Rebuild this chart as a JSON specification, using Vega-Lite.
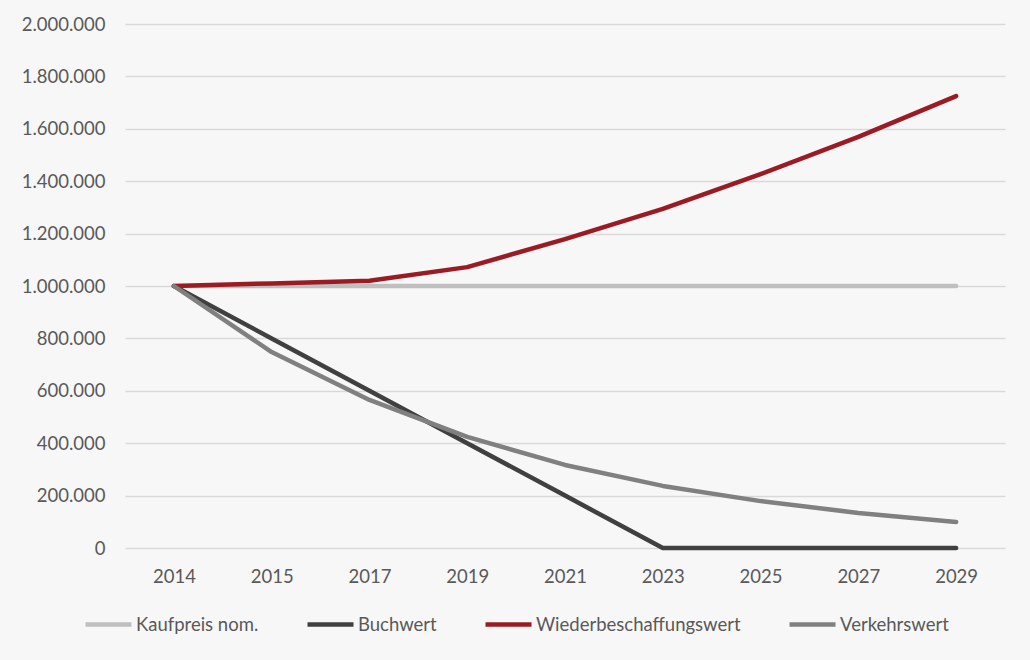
{
  "$schema": "https://vega.github.io/schema/vega-lite/v6.json",
  "width": 880,
  "height": 524,
  "autosize": {"type": "none"},
  "padding": {"left": 125, "top": 24, "right": 25, "bottom": 112},
  "background": "#f7f7f7",
  "config": {
    "locale": {"number": {"decimal": ",", "thousands": ".", "grouping": [3], "currency": ["", " €"]}},
    "font": "Lato",
    "view": {"stroke": null}
  },
  "data": {
    "values": [
      {"Jahr": "2014", "Serie": "Kaufpreis nom.", "Wert": 1000000},
      {"Jahr": "2015", "Serie": "Kaufpreis nom.", "Wert": 1000000},
      {"Jahr": "2017", "Serie": "Kaufpreis nom.", "Wert": 1000000},
      {"Jahr": "2019", "Serie": "Kaufpreis nom.", "Wert": 1000000},
      {"Jahr": "2021", "Serie": "Kaufpreis nom.", "Wert": 1000000},
      {"Jahr": "2023", "Serie": "Kaufpreis nom.", "Wert": 1000000},
      {"Jahr": "2025", "Serie": "Kaufpreis nom.", "Wert": 1000000},
      {"Jahr": "2027", "Serie": "Kaufpreis nom.", "Wert": 1000000},
      {"Jahr": "2029", "Serie": "Kaufpreis nom.", "Wert": 1000000},
      {"Jahr": "2014", "Serie": "Buchwert", "Wert": 1000000},
      {"Jahr": "2015", "Serie": "Buchwert", "Wert": 800000},
      {"Jahr": "2017", "Serie": "Buchwert", "Wert": 600000},
      {"Jahr": "2019", "Serie": "Buchwert", "Wert": 400000},
      {"Jahr": "2021", "Serie": "Buchwert", "Wert": 200000},
      {"Jahr": "2023", "Serie": "Buchwert", "Wert": 0},
      {"Jahr": "2025", "Serie": "Buchwert", "Wert": 0},
      {"Jahr": "2027", "Serie": "Buchwert", "Wert": 0},
      {"Jahr": "2029", "Serie": "Buchwert", "Wert": 0},
      {"Jahr": "2014", "Serie": "Wiederbeschaffungswert", "Wert": 1000000},
      {"Jahr": "2015", "Serie": "Wiederbeschaffungswert", "Wert": 1010000},
      {"Jahr": "2017", "Serie": "Wiederbeschaffungswert", "Wert": 1020000},
      {"Jahr": "2019", "Serie": "Wiederbeschaffungswert", "Wert": 1072000},
      {"Jahr": "2021", "Serie": "Wiederbeschaffungswert", "Wert": 1179000},
      {"Jahr": "2023", "Serie": "Wiederbeschaffungswert", "Wert": 1294000},
      {"Jahr": "2025", "Serie": "Wiederbeschaffungswert", "Wert": 1427000},
      {"Jahr": "2027", "Serie": "Wiederbeschaffungswert", "Wert": 1569000},
      {"Jahr": "2029", "Serie": "Wiederbeschaffungswert", "Wert": 1725000},
      {"Jahr": "2014", "Serie": "Verkehrswert", "Wert": 1000000},
      {"Jahr": "2015", "Serie": "Verkehrswert", "Wert": 748000},
      {"Jahr": "2017", "Serie": "Verkehrswert", "Wert": 565000},
      {"Jahr": "2019", "Serie": "Verkehrswert", "Wert": 424000},
      {"Jahr": "2021", "Serie": "Verkehrswert", "Wert": 317000},
      {"Jahr": "2023", "Serie": "Verkehrswert", "Wert": 237000},
      {"Jahr": "2025", "Serie": "Verkehrswert", "Wert": 179000},
      {"Jahr": "2027", "Serie": "Verkehrswert", "Wert": 134000},
      {"Jahr": "2029", "Serie": "Verkehrswert", "Wert": 99000}
    ]
  },
  "mark": {"type": "line", "strokeWidth": 4.5, "strokeCap": "round", "strokeJoin": "round"},
  "encoding": {
    "x": {
      "field": "Jahr", "type": "ordinal",
      "scale": {"type": "point", "padding": 0.5},
      "axis": {"title": null, "domain": false, "ticks": false, "grid": false, "labelAngle": 0, "labelFontSize": 18.5, "labelColor": "#595959", "labelPadding": 19}
    },
    "y": {
      "field": "Wert", "type": "quantitative",
      "scale": {"domain": [0, 2000000]},
      "axis": {"title": null, "domain": false, "ticks": false, "tickCount": 10, "format": ",d", "gridColor": "#d9d9d9", "gridWidth": 1.5, "labelFontSize": 18.5, "labelColor": "#595959", "labelPadding": 20}
    },
    "color": {
      "field": "Serie", "type": "nominal",
      "scale": {"domain": ["Kaufpreis nom.", "Buchwert", "Wiederbeschaffungswert", "Verkehrswert"], "range": ["#bfbfbf", "#404040", "#9b1b25", "#808080"]},
      "legend": {"title": null, "orient": "none", "direction": "horizontal", "legendX": -42, "legendY": 575, "symbolType": "stroke", "symbolStrokeWidth": 4.5, "symbolSize": 2116, "labelFontSize": 18.5, "labelColor": "#595959", "labelOffset": 2, "labelLimit": 400, "columnPadding": 39}
    },
    "order": {"field": "Serie"}
  }
}
